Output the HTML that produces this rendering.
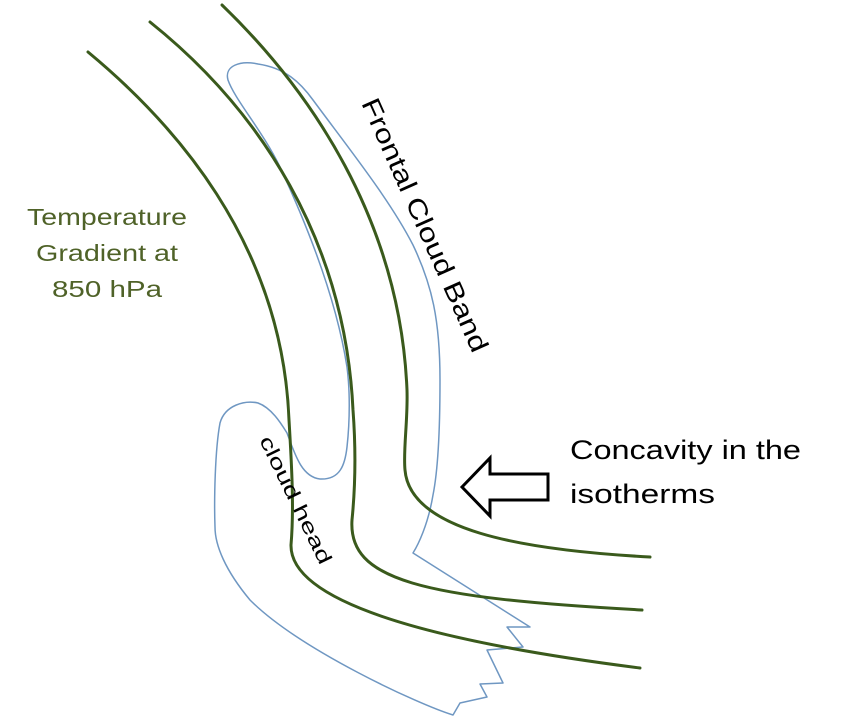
<!DOCTYPE html>
<html><head><meta charset="utf-8"><style>
html,body{margin:0;padding:0;background:#fff;}
svg{display:block;}
text{font-family:"Liberation Sans",sans-serif;}
</style></head><body>
<svg width="841" height="720" viewBox="0 0 841 720" xmlns="http://www.w3.org/2000/svg">
<g fill="none" stroke="#6f97c2" stroke-width="1.5" stroke-linejoin="round">
<path d="M228,80 C224,66 240,60 258,64 C285,68 300,82 313,100 C350,150 390,200 413,245 C432,285 440,320 440,380 C440,430 438,470 433,495 C428,525 418,545 413,553 L530,627 L507,627 L523,647 L487,650 L503,683 L480,684 L487,697 L460,703 L453,715 C420,705 300,650 250,600 C225,570 215,545 215,527 C214,500 215,450 220,423 C225,405 245,400 258,403 C272,408 282,425 287,433 C295,455 302,477 320,479 C340,480 345,465 347,447 C350,420 350,390 347,367 C335,290 300,210 280,167 C262,130 235,100 228,80 Z"/>
</g>
<g fill="none" stroke="#3a5a1c" stroke-width="3" stroke-linecap="round">
<path d="M88,52 C170,120 282,240 289,420 C292,470 294,510 291,545 C290,600 420,640 640,668"/>
<path d="M150,22 C260,110 345,240 353,410 C356,450 355,490 352,520 C348,580 420,598 642,610"/>
<path d="M222,5 C310,90 400,220 407,390 C408,420 403,450 405,470 C410,530 520,550 650,557"/>
</g>
<path d="M462,487 L490,458 L490,474 L548,474 L548,500 L490,500 L490,516 Z" fill="#fff" stroke="#000" stroke-width="3" stroke-linejoin="miter"/>
<g fill="#4f6228" font-size="23" text-anchor="middle">
<text x="107" y="225" textLength="160" lengthAdjust="spacingAndGlyphs">Temperature</text>
<text x="107" y="261" textLength="142" lengthAdjust="spacingAndGlyphs">Gradient at</text>
<text x="107" y="297" textLength="110" lengthAdjust="spacingAndGlyphs">850 hPa</text>
</g>
<text x="0" y="0" font-size="26" fill="#000" transform="translate(361,103) rotate(66)" textLength="275" lengthAdjust="spacingAndGlyphs">Frontal Cloud Band</text>
<text x="0" y="0" font-size="20" fill="#000" transform="translate(259,440) rotate(64)" textLength="140" lengthAdjust="spacingAndGlyphs">cloud  head</text>
<text x="570" y="459" font-size="27" fill="#000" textLength="231" lengthAdjust="spacingAndGlyphs">Concavity in the</text>
<text x="570" y="503" font-size="27" fill="#000" textLength="145" lengthAdjust="spacingAndGlyphs">isotherms</text>
</svg>
</body></html>
